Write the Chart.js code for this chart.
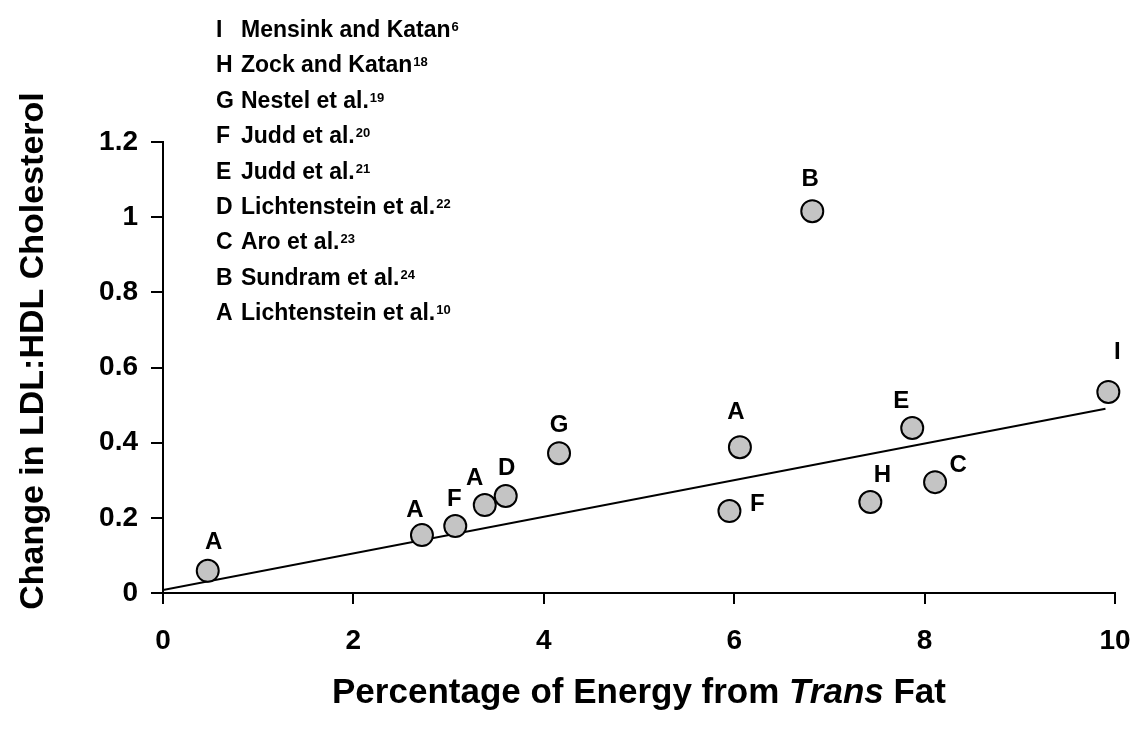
<!DOCTYPE html>
<html>
<head>
<meta charset="utf-8">
<script src="https://cdn.jsdelivr.net/npm/chart.js@4.4.1/dist/chart.umd.min.js"></script>
<style>
  body { margin: 0; background: #fff; }
  #wrap { width: 1136px; height: 747px; position: relative; }
</style>
</head>
<body>
<div id="wrap"><canvas id="chart1"></canvas></div>
<script>
// study key shown in the top-left corner
var studyKeys = ['I', 'H', 'G', 'F', 'E', 'D', 'C', 'B', 'A'];
var studyNames = ['Mensink and Katan', 'Zock and Katan', 'Nestel et al.', 'Judd et al.', 'Judd et al.',
                  'Lichtenstein et al.', 'Aro et al.', 'Sundram et al.', 'Lichtenstein et al.'];
var studyRefs = ['6', '18', '19', '20', '21', '22', '23', '24', '10'];

// one point per diet comparison
var pointLabels = ['A', 'A', 'F', 'A', 'D', 'G', 'F', 'A', 'B', 'H', 'E', 'C', 'I'];
var transFat = [0.47, 2.72, 3.07, 3.38, 3.60, 4.16, 5.95, 6.06, 6.82, 7.43, 7.87, 8.11, 9.93];
var ldlHdlChange = [0.059, 0.154, 0.178, 0.234, 0.258, 0.372, 0.218, 0.388, 1.016, 0.242, 0.439, 0.295, 0.535];

// fitted line
var fitX = [0, 9.9];
var fitY = [0.008, 0.49];

var xTicks = [0, 2, 4, 6, 8, 10];
var yTicks = [0, 0.2, 0.4, 0.6, 0.8, 1, 1.2];

// where each letter sits relative to its point (px)
var labelDx = [6, -7, -1, -10, 1, 0, 28, -4, -2, 12, -11, 23, 9];
var labelDy = [-28, -25, -27, -27, -28, -28, -7, -35, -32, -27, -27, -17, -40];

var FONT = "'Liberation Sans', Arial, Helvetica, sans-serif";

var points = [];
for (var i = 0; i < transFat.length; i++) {
  points.push({x: transFat[i], y: ldlHdlChange[i]});
}
var fitLine = [];
for (var i = 0; i < fitX.length; i++) {
  fitLine.push({x: fitX[i], y: fitY[i]});
}

var pointLetters = {
  id: 'pointLetters',
  afterDatasetsDraw: function(chart) {
    var ctx = chart.ctx;
    var meta = chart.getDatasetMeta(0);
    ctx.save();
    ctx.fillStyle = '#000';
    ctx.font = 'bold 24px ' + FONT;
    ctx.textAlign = 'center';
    ctx.textBaseline = 'middle';
    meta.data.forEach(function(el, i) {
      ctx.fillText(pointLabels[i], el.x + labelDx[i], el.y + labelDy[i]);
    });
    ctx.restore();
  }
};

var keyAndTitles = {
  id: 'keyAndTitles',
  afterDraw: function(chart) {
    var ctx = chart.ctx;
    var area = chart.chartArea;
    ctx.save();
    ctx.fillStyle = '#000';
    ctx.textBaseline = 'alphabetic';
    ctx.textAlign = 'left';
    for (var i = 0; i < studyKeys.length; i++) {
      var y = 37 + i * 35.4;
      ctx.font = 'bold 23px ' + FONT;
      ctx.fillText(studyKeys[i], 216, y);
      ctx.fillText(studyNames[i], 241, y);
      var w = ctx.measureText(studyNames[i]).width;
      ctx.font = 'bold 13px ' + FONT;
      ctx.fillText(studyRefs[i], 241 + w + 1, y - 6);
    }

    // x title with italic "Trans"
    var parts = [['Percentage of Energy from ', 'bold '], ['Trans', 'italic bold '], [' Fat', 'bold ']];
    var total = 0;
    parts.forEach(function(p) {
      ctx.font = p[1] + '35px ' + FONT;
      total += ctx.measureText(p[0]).width;
    });
    var x = (area.left + area.right) / 2 - total / 2;
    parts.forEach(function(p) {
      ctx.font = p[1] + '35px ' + FONT;
      ctx.fillText(p[0], x, 703);
      x += ctx.measureText(p[0]).width;
    });

    // y title
    ctx.translate(43, 351);
    ctx.rotate(-Math.PI / 2);
    ctx.textAlign = 'center';
    ctx.font = 'bold 34px ' + FONT;
    ctx.fillText('Change in LDL:HDL Cholesterol', 0, 0);
    ctx.restore();
  }
};

new Chart(document.getElementById('chart1'), {
  type: 'scatter',
  data: {
    datasets: [{
      label: 'Studies',
      data: points,
      order: 1,
      clip: false,
      pointRadius: 11,
      pointHoverRadius: 11,
      pointBackgroundColor: '#c4c4c4',
      pointBorderColor: '#000',
      pointBorderWidth: 2
    }, {
      type: 'line',
      label: 'Fit',
      data: fitLine,
      order: 2,
      borderColor: '#000',
      borderWidth: 2,
      pointRadius: 0,
      fill: false
    }]
  },
  options: {
    responsive: true,
    maintainAspectRatio: false,
    animation: false,
    events: [],
    layout: { padding: { left: 0, right: 21, top: 142, bottom: 0 } },
    plugins: {
      legend: { display: false },
      tooltip: { enabled: false }
    },
    scales: {
      x: {
        type: 'linear',
        min: 0,
        max: 10,
        afterBuildTicks: function(scale) {
          scale.ticks = xTicks.map(function(v) { return {value: v}; });
        },
        afterFit: function(scale) {
          scale.height = 154;
          scale.paddingLeft = 0;
          scale.paddingRight = 0;
        },
        border: { display: true, color: '#000', width: 2 },
        grid: { drawOnChartArea: false, drawTicks: true, tickLength: 11, color: '#000', lineWidth: 2 },
        ticks: { color: '#000', padding: 20, font: { family: FONT, size: 28, weight: 'bold' } }
      },
      y: {
        type: 'linear',
        min: 0,
        max: 1.2,
        afterBuildTicks: function(scale) {
          scale.ticks = yTicks.map(function(v) { return {value: v}; });
        },
        afterFit: function(scale) { scale.width = 163; },
        border: { display: true, color: '#000', width: 2 },
        grid: { drawOnChartArea: false, drawTicks: true, tickLength: 12, color: '#000', lineWidth: 2 },
        ticks: {
          color: '#000',
          padding: 13,
          font: { family: FONT, size: 28, weight: 'bold' },
          callback: function(v) { return String(Math.round(v * 10) / 10); }
        }
      }
    }
  },
  plugins: [pointLetters, keyAndTitles]
});
</script>
</body>
</html>
